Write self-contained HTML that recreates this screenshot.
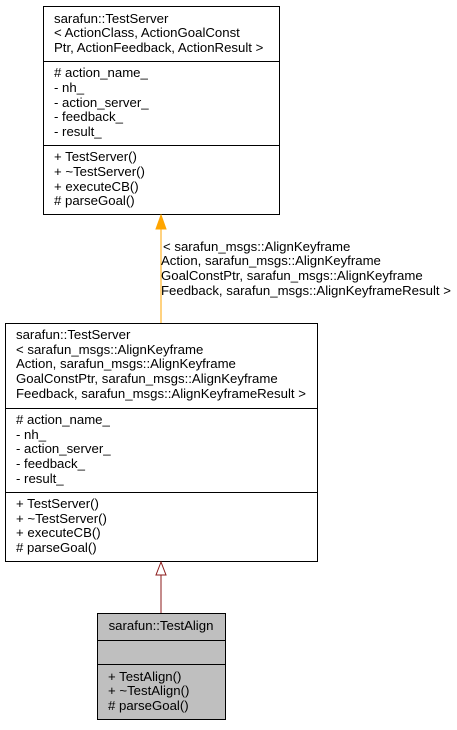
<!DOCTYPE html>
<html><head><meta charset="utf-8"><style>
html,body{margin:0;padding:0;background:#fff;}
svg text{font-family:"Liberation Sans",sans-serif;font-size:13.2px;fill:#000;}
</style></head><body>
<svg width="457" height="725" viewBox="0 0 457 725" xmlns="http://www.w3.org/2000/svg">
<rect x="43.5" y="6.5" width="236" height="208" fill="#fff" stroke="#000"/>
<line x1="43.5" y1="61.5" x2="279.5" y2="61.5" stroke="#000"/>
<line x1="43.5" y1="145.5" x2="279.5" y2="145.5" stroke="#000"/>
<text x="54" y="23">sarafun::TestServer</text>
<text x="54" y="37">&lt; ActionClass, ActionGoalConst</text>
<text x="54" y="52">Ptr, ActionFeedback, ActionResult &gt;</text>
<text x="54" y="77"># action_name_</text>
<text x="54" y="92">- nh_</text>
<text x="54" y="107">- action_server_</text>
<text x="54" y="121">- feedback_</text>
<text x="54" y="136">- result_</text>
<text x="54" y="161">+ TestServer()</text>
<text x="54" y="176">+ ~TestServer()</text>
<text x="54" y="191">+ executeCB()</text>
<text x="54" y="205"># parseGoal()</text>
<line x1="161" y1="228" x2="161" y2="323" stroke="#ffa500" stroke-width="1"/>
<polygon points="161,215 156,229 166,229" fill="#ffa500" stroke="#ffa500"/>
<text x="163" y="251"> &lt; sarafun_msgs::AlignKeyframe</text>
<text x="161" y="265">Action, sarafun_msgs::AlignKeyframe</text>
<text x="161" y="280">GoalConstPtr, sarafun_msgs::AlignKeyframe</text>
<text x="161" y="295">Feedback, sarafun_msgs::AlignKeyframeResult &gt;</text>
<rect x="5.5" y="323.5" width="312" height="238" fill="#fff" stroke="#000"/>
<line x1="5.5" y1="408.5" x2="317.5" y2="408.5" stroke="#000"/>
<line x1="5.5" y1="492.5" x2="317.5" y2="492.5" stroke="#000"/>
<text x="16" y="339">sarafun::TestServer</text>
<text x="16" y="354">&lt; sarafun_msgs::AlignKeyframe</text>
<text x="16" y="368">Action, sarafun_msgs::AlignKeyframe</text>
<text x="16" y="383">GoalConstPtr, sarafun_msgs::AlignKeyframe</text>
<text x="16" y="398">Feedback, sarafun_msgs::AlignKeyframeResult &gt;</text>
<text x="16" y="424"># action_name_</text>
<text x="16" y="439">- nh_</text>
<text x="16" y="453">- action_server_</text>
<text x="16" y="468">- feedback_</text>
<text x="16" y="483">- result_</text>
<text x="16" y="508">+ TestServer()</text>
<text x="16" y="523">+ ~TestServer()</text>
<text x="16" y="537">+ executeCB()</text>
<text x="16" y="552"># parseGoal()</text>
<line x1="161" y1="575" x2="161" y2="613" stroke="#8b1a1a"/>
<polygon points="161,562 156,575 166,575" fill="#fff" stroke="#8b1a1a"/>
<rect x="97.5" y="613.5" width="128" height="106" fill="#bfbfbf" stroke="#000"/>
<line x1="97.5" y1="640.5" x2="225.5" y2="640.5" stroke="#000"/>
<line x1="97.5" y1="664.5" x2="225.5" y2="664.5" stroke="#000"/>
<text x="161" y="630" text-anchor="middle">sarafun::TestAlign</text>
<text x="108" y="681">+ TestAlign()</text>
<text x="108" y="695">+ ~TestAlign()</text>
<text x="108" y="710"># parseGoal()</text>
</svg>
</body></html>
